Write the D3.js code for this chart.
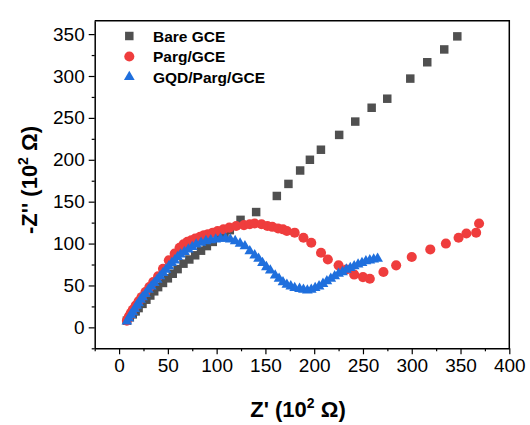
<!DOCTYPE html>
<html>
<head>
<meta charset="utf-8">
<script src="https://cdn.jsdelivr.net/npm/d3@7"></script>
<style>
  body { margin: 0; background: #fff; }
  text { font-family: "Liberation Sans", Arial, sans-serif; }
</style>
</head>
<body>
<div id="chart"></div>
<script>
const width = 530;
const height = 425;
const margin = { top: 20.7, right: 20.7, bottom: 76.7, left: 94.7 };

// Nyquist data, Z' and -Z'' in 10^2 ohm
const bareX = [8, 11, 14, 17, 20, 24, 28, 32, 36, 40, 45, 50, 55, 60, 66, 72, 78, 84, 90, 96, 103, 108, 113.5, 124.5, 140.5, 161.7, 173.6, 185.6, 195.6, 206.9, 225.6, 242.1, 258.9, 274.9, 298.5, 315.9, 333.3, 346.7];
const bareY = [8, 12, 15.5, 19, 23, 28, 33, 38, 43, 48, 53, 58.5, 64, 69.5, 76, 81, 86, 91.5, 97, 102, 108, 112, 116, 128.3, 137.6, 156.8, 171.2, 187.2, 200, 212, 229.7, 245.6, 262.1, 272.9, 296.9, 316.4, 331.7, 347.3];

const pargX = [8, 10, 12, 14, 17, 20, 23, 27, 31, 35, 40, 45, 51, 57, 62, 66, 70, 74, 78, 83, 87, 91, 96, 101, 107, 113, 120, 128, 134, 139, 146, 152, 157, 163, 168, 172, 180, 189, 197, 207, 214, 225, 233, 241, 250, 257, 271, 284, 300, 319, 335, 348, 356, 366, 369];
const pargY = [8, 13, 17, 21, 26, 31, 36, 42, 48, 54, 61, 70, 80, 88, 95, 99, 102, 104, 106, 108, 110, 111, 113, 115, 117, 119, 121, 122, 123, 124, 123, 121, 120, 118, 117, 115, 113, 107, 101, 89, 81, 74, 69, 63, 60, 58, 66, 74, 84, 93, 100, 107, 112, 113, 124];

const gqdX = [8, 10, 12, 14, 16, 18, 20, 22, 24, 27, 30, 33, 36, 39, 42, 45, 48, 51, 54, 57, 60, 63, 67, 71, 75, 79, 84, 89, 94, 99, 104, 109, 114, 119, 124, 129, 134, 139, 143, 147, 151, 155, 160, 164, 168, 172, 176, 180, 185, 189, 193, 197, 201, 205, 209, 213, 217, 221, 225, 229, 233, 237, 241, 245, 249, 253, 257, 261, 265];
const gqdY = [7, 11, 15, 18, 22, 26, 29, 33, 36, 40, 45, 49, 53, 57, 61, 65, 69, 73, 77, 80, 84, 87, 90, 93, 96, 99, 101, 103, 104, 105, 106, 106, 105, 103, 100, 97, 91, 86, 82, 77, 72, 68, 62, 58, 54, 51, 49, 47, 46, 45, 44, 45, 47, 49, 52, 55, 58, 61, 64, 66, 69, 71, 73, 75, 77, 79, 80, 81, 82];

const seriesNames = ['Bare GCE', 'Parg/GCE', 'GQD/Parg/GCE'];
const seriesColors = ['#505050', '#ef3d3d', '#1f6fdd'];
const xTicks = [0, 50, 100, 150, 200, 250, 300, 350, 400];
const yTicks = [0, 50, 100, 150, 200, 250, 300, 350];

const series = [
  { name: seriesNames[0], color: seriesColors[0], shape: d3.symbolSquare, size: 72, pts: d3.zip(bareX, bareY) },
  { name: seriesNames[1], color: seriesColors[1], shape: d3.symbolCircle, size: 80, pts: d3.zip(pargX, pargY) },
  { name: seriesNames[2], color: seriesColors[2], shape: d3.symbolTriangle, size: 50, pts: d3.zip(gqdX, gqdY) }
];

const x = d3.scaleLinear().domain([-25, 400]).range([margin.left, width - margin.right]);
const y = d3.scaleLinear().domain([-25, 366]).range([height - margin.bottom, margin.top]);

const svg = d3.select('#chart')
  .append('svg')
    .attr('width', width)
    .attr('height', height);

// markers
series.forEach(s => {
  svg.append('g')
    .selectAll('path')
    .data(s.pts)
    .join('path')
      .attr('d', d3.symbol(s.shape, s.size))
      .attr('transform', d => `translate(${x(d[0])},${y(d[1])})`)
      .attr('fill', s.color);
});

// axes
const xAxis = svg.append('g')
  .attr('transform', `translate(0,${height - margin.bottom})`)
  .call(d3.axisBottom(x).tickValues(xTicks).tickSize(6).tickSizeOuter(0).tickPadding(4));
svg.append('g')
  .attr('transform', `translate(0,${height - margin.bottom})`)
  .call(d3.axisBottom(x).tickValues(d3.range(-25, 400, 50)).tickSize(3).tickFormat(''))
  .call(g => g.select('.domain').remove());

const yAxis = svg.append('g')
  .attr('transform', `translate(${margin.left},0)`)
  .call(d3.axisLeft(y).tickValues(yTicks).tickSize(6).tickSizeOuter(0).tickPadding(4));
svg.append('g')
  .attr('transform', `translate(${margin.left},0)`)
  .call(d3.axisLeft(y).tickValues(d3.range(-25, 366, 50)).tickSize(3).tickFormat(''))
  .call(g => g.select('.domain').remove());

svg.selectAll('.tick line').attr('stroke', '#000').attr('stroke-width', 1.2);
svg.selectAll('.domain').attr('stroke', '#000').attr('stroke-width', 1.5);
xAxis.selectAll('text').attr('font-size', 19).attr('fill', '#000');
yAxis.selectAll('text').attr('font-size', 19).attr('fill', '#000');

// frame top & right
svg.append('path')
  .attr('d', `M${margin.left},${margin.top}H${width - margin.right}V${height - margin.bottom}`)
  .attr('fill', 'none')
  .attr('stroke', '#000')
  .attr('stroke-width', 1.5);

// axis titles
const xt = svg.append('text')
  .attr('x', 298)
  .attr('y', 417)
  .attr('text-anchor', 'middle')
  .attr('font-size', 22)
  .attr('font-weight', 'bold');
xt.append('tspan').text("Z' (10");
xt.append('tspan').attr('font-size', 14).attr('dy', -9).text('2');
xt.append('tspan').attr('dy', 9).text(' Ω)');

const yt = svg.append('text')
  .attr('transform', 'translate(37,180) rotate(-90)')
  .attr('text-anchor', 'middle')
  .attr('font-size', 22)
  .attr('font-weight', 'bold');
yt.append('tspan').text("-Z'' (10");
yt.append('tspan').attr('font-size', 14).attr('dy', -9).text('2');
yt.append('tspan').attr('dy', 9).text(' Ω)');

// legend
const legend = svg.append('g');
series.forEach((s, i) => {
  const ly = 36 + i * 20.5;
  legend.append('path')
    .attr('d', d3.symbol(s.shape, s.size)())
    .attr('transform', `translate(129.3,${ly})`)
    .attr('fill', s.color);
  legend.append('text')
    .attr('x', 153)
    .attr('y', ly + 5.5)
    .attr('font-size', 15.5)
    .attr('font-weight', 'bold')
    .text(s.name);
});
</script>
</body>
</html>
